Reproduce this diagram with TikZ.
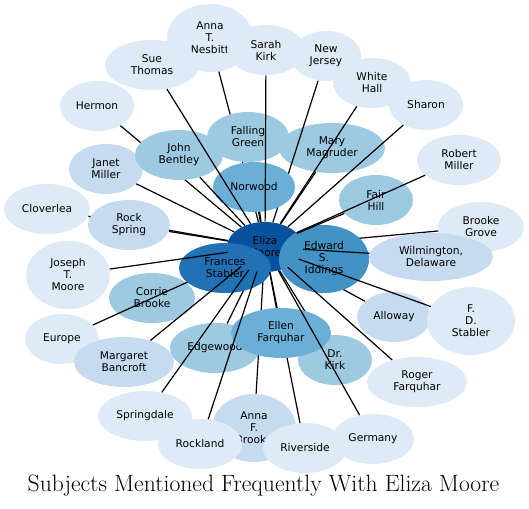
\documentclass[tikz,border=0pt]{standalone}
\usepackage{fontspec}
\usepackage{tikz}
\usetikzlibrary{shapes.geometric}
\newfontfamily\labelfont{DejaVu Sans}
\definecolor{blues1}{RGB}{222, 235, 247}
\definecolor{blues2}{RGB}{198, 219, 239}
\definecolor{blues3}{RGB}{158, 202, 225}
\definecolor{blues4}{RGB}{107, 174, 214}
\definecolor{blues5}{RGB}{66, 146, 198}
\definecolor{blues6}{RGB}{33, 113, 181}
\definecolor{blues7}{RGB}{8, 81, 156}

\begin{document}
\begin{tikzpicture}[
    x=0.75pt, y=-0.75pt,
    bub/.style={ellipse, draw=none, inner sep=0pt, align=center, font=\labelfont\fontsize{8}{9}\selectfont},
    sz/.style 2 args={minimum width=#1*1.5pt, minimum height=#2*1.5pt},
    link/.style={draw=black, line width=0.9pt}
]
    \useasboundingbox (0,0) rectangle (529,509);

    % Hub
    \node[bub, fill=blues7, sz={38}{25}] (eliza) at (265,247) {Eliza\\Moore};

    % Back: links that later bubbles cover
    \node[bub, fill=blues1, sz={43}{34}] (nesbitt) at (210,38) {Anna\\T.\\Nesbitt};
    \draw[link] (eliza) -- (nesbitt);
    \node[bub, fill=blues1, sz={37}{25}] (hermon) at (97,106) {Hermon};
    \draw[link] (eliza) -- (hermon);
    \node[bub, fill=blues1, sz={43}{25}] (cloverlea) at (47,209) {Cloverlea};
    \draw[link] (eliza) -- (cloverlea);
    \node[bub, fill=blues3, sz={43}{25}] (corrie) at (152,298) {Corrie\\Brooke};
    \draw[link] (eliza) -- (corrie);
    \node[bub, fill=blues1, sz={37}{25}] (europe) at (62,339) {Europe};
    \draw[link] (eliza) -- (europe);
    \node[bub, fill=blues3, sz={45}{25}] (edgewood) at (215,348) {Edgewood};
    \draw[link] (eliza) -- (edgewood);
    \node[bub, fill=blues2, sz={42}{34}] (annabrooke) at (254,428) {Anna\\F.\\Brooke};
    \draw[link] (eliza) -- (annabrooke);
    \node[bub, fill=blues1, sz={42}{25}] (riverside) at (305,448) {Riverside};
    \draw[link] (eliza) -- (riverside);
    \node[bub, fill=blues1, sz={43}{25}] (brookegrove) at (481,227) {Brooke\\Grove};
    \draw[link] (eliza) -- (brookegrove);
    \node[bub, fill=blues2, sz={37}{25}] (alloway) at (394,317) {Alloway};
    \draw[link] (eliza) -- (alloway);
    \node[bub, fill=blues3, sz={53}{25}] (magruder) at (332,148) {Mary\\Magruder};
    \draw[link] (eliza) -- (magruder);
    \node[bub, fill=blues1, sz={35}{25}] (newjersey) at (326,56) {New\\Jersey};
    \draw[link] (eliza) -- (newjersey);
    \node[bub, fill=blues3, sz={41}{25}] (falling) at (248,137) {Falling\\Green};
    \draw[link] (eliza) -- (falling);

    % Middle: the big bubbles
    \node[bub, fill=blues5, sz={45}{34}] (iddings) at (324,259) {Edward\\S.\\Iddings};
    \node[bub, fill=blues6, sz={46}{25}] (frances) at (225,268) {Frances\\Stabler};
    \node[bub, fill=blues3, sz={37}{25}] (drkirk) at (335,360) {Dr.\\Kirk};
    \draw[link] (eliza) -- (drkirk);
    \node[bub, fill=blues4, sz={50}{25}] (ellen) at (281,333) {Ellen\\Farquhar};
    \draw[link] (eliza) -- (ellen);
    \node[bub, fill=blues4, sz={41}{25}] (norwood) at (254,187) {Norwood};
    \draw[link] (eliza) -- (norwood);

    % Front: links drawn over the bubbles
    \node[bub, fill=blues2, sz={37}{25}] (janet) at (106,169) {Janet\\Miller};
    \draw[link] (eliza) -- (janet);
    \node[bub, fill=blues3, sz={44}{25}] (bentley) at (179,155) {John\\Bentley};
    \draw[link] (eliza) -- (bentley);
    \node[bub, fill=blues2, sz={41}{25}] (rockspring) at (129,225) {Rock\\Spring};
    \draw[link] (eliza) -- (rockspring);
    \node[bub, fill=blues1, sz={47}{25}] (suethomas) at (152,65) {Sue\\Thomas};
    \draw[link] (eliza) -- (suethomas);
    \node[bub, fill=blues1, sz={39}{25}] (sarahkirk) at (266,50) {Sarah\\Kirk};
    \draw[link] (eliza) -- (sarahkirk);
    \node[bub, fill=blues1, sz={39}{25}] (whitehall) at (372,83) {White\\Hall};
    \draw[link] (eliza) -- (whitehall);
    \node[bub, fill=blues1, sz={37}{25}] (sharon) at (426,105) {Sharon};
    \draw[link] (eliza) -- (sharon);
    \node[bub, fill=blues3, sz={37}{25}] (fairhill) at (376,200) {Fair\\Hill};
    \draw[link] (eliza) -- (fairhill);
    \node[bub, fill=blues1, sz={42}{25}] (robert) at (459,160) {Robert\\Miller};
    \draw[link] (eliza) -- (robert);
    \node[bub, fill=blues2, sz={62}{24}] (wilmington) at (431,257) {Wilmington,\\Delaware};
    \draw[link] (eliza) -- (wilmington);
    \node[bub, fill=blues1, sz={44}{34}] (fdstabler) at (471,321) {F.\\D.\\Stabler};
    \draw[link] (eliza) -- (fdstabler);
    \node[bub, fill=blues1, sz={50}{25}] (roger) at (417,382) {Roger\\Farquhar};
    \draw[link] (eliza) -- (roger);
    \node[bub, fill=blues1, sz={41}{25}] (germany) at (373,439) {Germany};
    \draw[link] (eliza) -- (germany);
    \node[bub, fill=blues1, sz={47}{25}] (springdale) at (145,416) {Springdale};
    \draw[link] (eliza) -- (springdale);
    \node[bub, fill=blues1, sz={42}{25}] (rockland) at (200,444) {Rockland};
    \draw[link] (eliza) -- (rockland);
    \node[bub, fill=blues2, sz={50}{25}] (bancroft) at (124,362) {Margaret\\Bancroft};
    \draw[link] (eliza) -- (bancroft);
    \node[bub, fill=blues1, sz={42}{34}] (joseph) at (68,275) {Joseph\\T.\\Moore};
    \draw[link] (eliza) -- (joseph);

    % Title
    \node[anchor=base, font=\fontsize{17.7}{21}\selectfont] (title) at (263.5,492) {Subjects Mentioned Frequently With Eliza Moore};
\end{tikzpicture}
\end{document}
